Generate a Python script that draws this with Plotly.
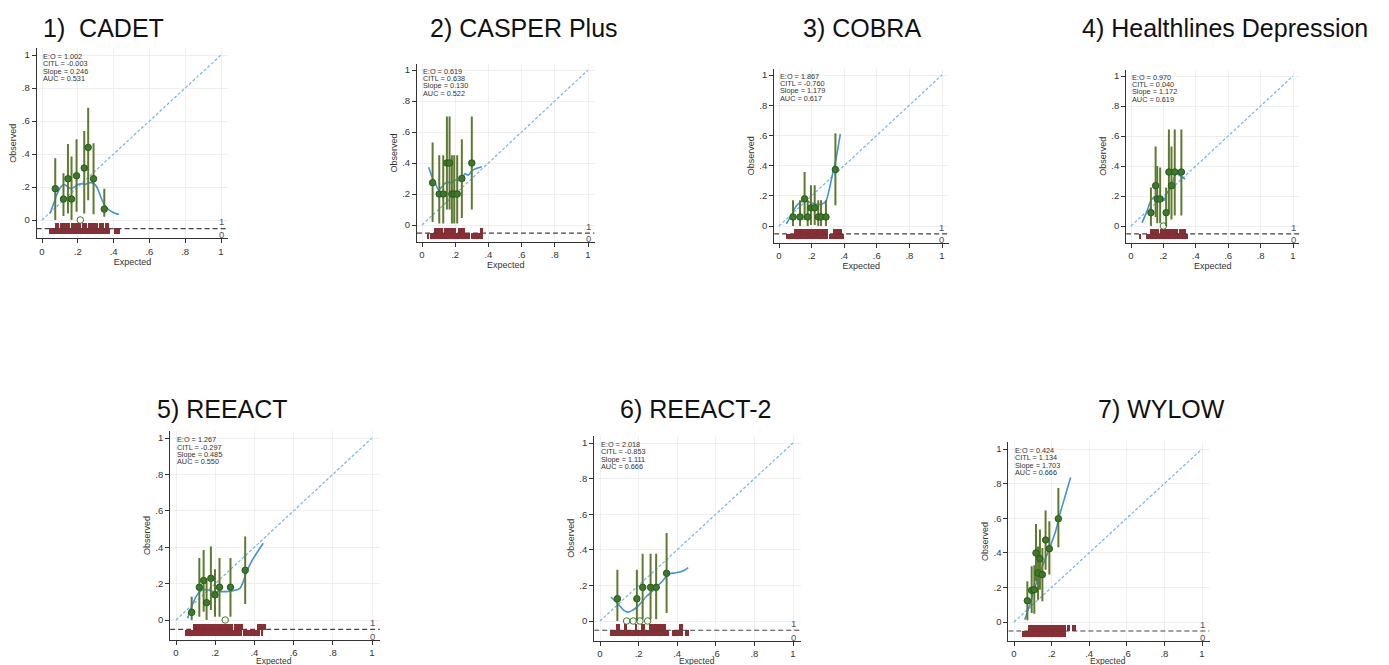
import plotly.graph_objects as go

# page body has an 8px margin: figure drawn 8px right/down of the window origin
OX, OY = 8, 8
W, H = 1389, 665

# ---------------- data ----------------
titles = ["1)  CADET", "2) CASPER Plus", "3) COBRA", "4) Healthlines Depression",
          "5) REEACT", "6) REEACT-2", "7) WYLOW"]

stat_names = ["E:O", "CITL", "Slope", "AUC"]
stats = [
    ["1.002", "-0.003", "0.246", "0.531"],
    ["0.619", "0.638", "0.130", "0.522"],
    ["1.867", "-0.760", "1.179", "0.617"],
    ["0.970", "0.040", "1.172", "0.619"],
    ["1.267", "-0.297", "0.485", "0.550"],
    ["2.018", "-0.853", "1.111", "0.666"],
    ["0.424", "1.134", "1.703", "0.666"],
]

# grouped expected / observed with 95% CI
exp1 = [0.074, 0.120, 0.145, 0.165, 0.193, 0.214, 0.236, 0.258, 0.288, 0.348]
obs1 = [0.190, 0.127, 0.250, 0.127, 0.268, 0.000, 0.315, 0.440, 0.250, 0.066]
lo1 = [0.00, 0.024, 0.04, 0.00, 0.05, 0.00, 0.04, 0.12, 0.035, 0.02]
hi1 = [0.374, 0.283, 0.46, 0.385, 0.49, 0.00, 0.54, 0.68, 0.465, 0.19]

exp2 = [0.064, 0.104, 0.128, 0.150, 0.166, 0.180, 0.194, 0.212, 0.240, 0.300]
obs2 = [0.273, 0.200, 0.200, 0.400, 0.400, 0.200, 0.200, 0.200, 0.300, 0.400]
lo2 = [0.02, 0.01, 0.01, 0.10, 0.10, 0.01, 0.01, 0.01, 0.045, 0.10]
hi2 = [0.533, 0.45, 0.45, 0.70, 0.70, 0.45, 0.45, 0.45, 0.553, 0.70]

exp3 = [0.086, 0.129, 0.157, 0.176, 0.196, 0.219, 0.241, 0.258, 0.288, 0.346]
obs3 = [0.060, 0.060, 0.180, 0.060, 0.120, 0.120, 0.060, 0.060, 0.060, 0.374]
lo3 = [0.0, 0.0, 0.04, 0.0, 0.007, 0.007, 0.0, 0.0, 0.0, 0.137]
hi3 = [0.17, 0.17, 0.358, 0.17, 0.27, 0.27, 0.17, 0.17, 0.17, 0.615]

exp4 = [0.123, 0.152, 0.162, 0.180, 0.200, 0.217, 0.234, 0.250, 0.270, 0.311]
obs4 = [0.089, 0.269, 0.180, 0.180, 0.000, 0.089, 0.360, 0.269, 0.360, 0.360]
lo4 = [0.0, 0.06, 0.018, 0.018, 0.0, 0.0, 0.095, 0.044, 0.07, 0.07]
hi4 = [0.256, 0.53, 0.40, 0.39, 0.0, 0.256, 0.644, 0.53, 0.644, 0.644]

exp5 = [0.080, 0.119, 0.141, 0.156, 0.178, 0.199, 0.222, 0.251, 0.278, 0.353]
obs5 = [0.042, 0.180, 0.217, 0.095, 0.229, 0.138, 0.180, 0.000, 0.180, 0.273]
lo5 = [0.0, 0.018, 0.046, 0.0, 0.055, 0.018, 0.018, 0.0, 0.018, 0.088]
hi5 = [0.128, 0.34, 0.385, 0.23, 0.404, 0.279, 0.34, 0.0, 0.34, 0.459]

exp6 = [0.090, 0.138, 0.172, 0.191, 0.207, 0.221, 0.247, 0.262, 0.291, 0.345]
obs6 = [0.125, 0.000, 0.000, 0.125, 0.000, 0.189, 0.000, 0.189, 0.189, 0.268]
lo6 = [0.0, 0.0, 0.0, 0.0, 0.0, 0.01, 0.0, 0.01, 0.01, 0.045]
hi6 = [0.288, 0.0, 0.0, 0.288, 0.0, 0.378, 0.0, 0.378, 0.378, 0.494]

exp7 = [0.071, 0.094, 0.108, 0.117, 0.128, 0.138, 0.151, 0.168, 0.188, 0.236]
obs7 = [0.123, 0.183, 0.187, 0.399, 0.283, 0.366, 0.274, 0.474, 0.424, 0.597]
lo7 = [0.01, 0.052, 0.048, 0.235, 0.129, 0.187, 0.12, 0.302, 0.274, 0.432]
hi7 = [0.235, 0.322, 0.328, 0.566, 0.437, 0.534, 0.428, 0.644, 0.582, 0.775]

# lowess smoothers
lx1 = [0.045, 0.065, 0.085, 0.105, 0.12, 0.14, 0.16, 0.18, 0.20, 0.22, 0.24, 0.26, 0.28, 0.30, 0.315, 0.33, 0.35, 0.37, 0.39, 0.41, 0.43]
ly1 = [0.04, 0.10, 0.16, 0.20, 0.215, 0.205, 0.19, 0.20, 0.215, 0.22, 0.215, 0.225, 0.225, 0.21, 0.18, 0.135, 0.09, 0.065, 0.05, 0.04, 0.035]
lx2 = [0.04, 0.06, 0.08, 0.10, 0.12, 0.14, 0.16, 0.18, 0.20, 0.22, 0.24, 0.26, 0.28, 0.30, 0.33, 0.36]
ly2 = [0.372, 0.312, 0.27, 0.226, 0.247, 0.27, 0.275, 0.273, 0.29, 0.286, 0.30, 0.33, 0.322, 0.35, 0.366, 0.376]
lx3 = [0.045, 0.076, 0.106, 0.137, 0.168, 0.198, 0.229, 0.26, 0.286, 0.307, 0.327, 0.352, 0.376]
ly3 = [0.015, 0.07, 0.133, 0.16, 0.164, 0.153, 0.144, 0.144, 0.16, 0.237, 0.336, 0.458, 0.608]
lx4 = [0.068, 0.098, 0.125, 0.15, 0.17, 0.19, 0.205, 0.221, 0.242, 0.262, 0.279, 0.295, 0.313, 0.334]
ly4 = [0.022, 0.096, 0.173, 0.196, 0.18, 0.173, 0.173, 0.218, 0.251, 0.307, 0.362, 0.34, 0.33, 0.313]
lx5 = [0.059, 0.08, 0.102, 0.122, 0.139, 0.165, 0.19, 0.224, 0.258, 0.292, 0.326, 0.343, 0.36, 0.385, 0.411, 0.445]
ly5 = [0.009, 0.073, 0.128, 0.156, 0.167, 0.165, 0.156, 0.156, 0.156, 0.161, 0.174, 0.211, 0.266, 0.321, 0.367, 0.422]
lx6 = [0.057, 0.078, 0.10, 0.124, 0.147, 0.169, 0.193, 0.216, 0.241, 0.267, 0.293, 0.319, 0.341, 0.362, 0.388, 0.414, 0.436, 0.457]
ly6 = [0.135, 0.112, 0.088, 0.06, 0.05, 0.06, 0.079, 0.107, 0.139, 0.163, 0.191, 0.219, 0.247, 0.266, 0.27, 0.275, 0.285, 0.30]
lx7 = [0.057, 0.09, 0.119, 0.15, 0.19, 0.22, 0.243, 0.27, 0.301]
ly7 = [0.013, 0.12, 0.225, 0.32, 0.428, 0.52, 0.62, 0.72, 0.836]

# spike-plot (rug) extents of predicted risk: events (1) and non-events (0)
rug1_1 = [[0.07, 0.095], [0.10, 0.155], [0.16, 0.215], [0.22, 0.25], [0.255, 0.31], [0.315, 0.345], [0.35, 0.37]]
rug1_0 = [[0.035, 0.38], [0.40, 0.435]]
rug2_1 = [[0.07, 0.125], [0.13, 0.205], [0.215, 0.26], [0.35, 0.365]]
rug2_0 = [[0.035, 0.045], [0.05, 0.29], [0.295, 0.335], [0.34, 0.37]]
rug3_1 = [[0.095, 0.30], [0.33, 0.39]]
rug3_0 = [[0.045, 0.30], [0.305, 0.40]]
rug4_1 = [[0.12, 0.175], [0.18, 0.29], [0.295, 0.34]]
rug4_0 = [[0.055, 0.062], [0.095, 0.355]]
rug5_1 = [[0.085, 0.29], [0.295, 0.34], [0.415, 0.46]]
rug5_0 = [[0.045, 0.335], [0.34, 0.43], [0.435, 0.445]]
rug6_1 = [[0.085, 0.105], [0.13, 0.14], [0.18, 0.195], [0.215, 0.235], [0.255, 0.345], [0.41, 0.43]]
rug6_0 = [[0.055, 0.36], [0.375, 0.43], [0.44, 0.46]]
rug7_1 = [[0.075, 0.28], [0.285, 0.30], [0.31, 0.33]]
rug7_0 = [[0.045, 0.28]]

panels = [
    (exp1, obs1, lo1, hi1, lx1, ly1, rug1_1, rug1_0),
    (exp2, obs2, lo2, hi2, lx2, ly2, rug2_1, rug2_0),
    (exp3, obs3, lo3, hi3, lx3, ly3, rug3_1, rug3_0),
    (exp4, obs4, lo4, hi4, lx4, ly4, rug4_1, rug4_0),
    (exp5, obs5, lo5, hi5, lx5, ly5, rug5_1, rug5_0),
    (exp6, obs6, lo6, hi6, lx6, ly6, rug6_1, rug6_0),
    (exp7, obs7, lo7, hi7, lx7, ly7, rug7_1, rug7_0),
]

tickvals = [0, 0.2, 0.4, 0.6, 0.8, 1]
ticktext = ["0", ".2", ".4", ".6", ".8", "1"]

# ---------------- layout geometry (window pixels) ----------------
# (x pixel of 0, px per unit x, y pixel of 0, px per unit y)
geom = [
    (42, 179, 220, 165),
    (422, 166, 225, 155),
    (779, 163, 226, 151),
    (1131, 162, 226, 150),
    (176, 196, 620, 182),
    (600, 193, 621, 178),
    (1014, 188, 622, 173),
]
title_pos = [(41, 28), (428, 28), (801, 28), (1080, 28), (155, 409), (618, 409), (1096, 409)]
BOTTOM_XTITLE_Y = 660.5  # window y of bottom-row "Expected" centre (kept inside the page)
XR = (-0.03, 1.04)
YR = (-0.11, 1.04)
RUG_MID, RUG_TOP, RUG_BOT = -0.052, -0.018, -0.086
STAT_LINE_PX = 7.2

C_CI = "#5f7a30"
C_PT = "#3b7a28"
C_PT_EDGE = "#2a5a1b"
C_LOW = "#3e93dc"
C_DIAG = "#72b4ea"
C_RUG = "#8c2d33"


def px(xp):
    return (xp - OX) / W


def py(yp):
    return 1 - (yp - OY) / H


fig = go.Figure()
annotations = []
FONT = "Liberation Sans, Arial"
AXT_FONT = dict(family=FONT, size=9, color="#333")

for i, (ex, ob, lo, hi, lx, ly, r1, r0) in enumerate(panels):
    n = i + 1
    xa = "x" if n == 1 else f"x{n}"
    ya = "y" if n == 1 else f"y{n}"
    x0, sx, y0, sy = geom[i]
    L = x0 + XR[0] * sx
    R = x0 + XR[1] * sx
    B = y0 - YR[0] * sy
    T = y0 - YR[1] * sy
    xdom = [px(L), px(R)]
    ydom = [py(B), py(T)]
    bottom_row = n >= 5

    axcommon = dict(showline=True, linecolor="#333", linewidth=1, ticks="outside",
                    ticklen=4, tickcolor="#333", tickwidth=1, showgrid=True,
                    gridcolor="#efefef", gridwidth=1, zeroline=False,
                    tickvals=tickvals, ticktext=ticktext,
                    tickfont=dict(family=FONT, size=9.5, color="#333"))
    xtitle = dict(text="" if bottom_row else "Expected", font=AXT_FONT, standoff=0)
    fig.update_layout(**{
        ("xaxis" if n == 1 else f"xaxis{n}"): dict(
            domain=xdom, range=list(XR), anchor=ya, title=xtitle, **axcommon),
        ("yaxis" if n == 1 else f"yaxis{n}"): dict(
            domain=ydom, range=list(YR), anchor=xa,
            title=dict(text="Observed", font=AXT_FONT, standoff=3),
            **axcommon),
    })
    if bottom_row:
        annotations.append(dict(x=px(x0 + 0.5 * sx), y=py(BOTTOM_XTITLE_Y), xref="paper", yref="paper",
                                xanchor="center", yanchor="middle", showarrow=False, borderpad=0,
                                text="Expected", font=dict(family=FONT, size=8.5, color="#333")))

    # rug (spike plot)
    for segs, base, top in ((r1, RUG_MID, RUG_TOP), (r0, RUG_BOT, RUG_MID)):
        fig.add_trace(go.Bar(
            x=[(a + b) / 2 for a, b in segs], y=[top - base] * len(segs), base=[base] * len(segs),
            width=[b - a for a, b in segs], marker=dict(color=C_RUG, line=dict(width=0)),
            xaxis=xa, yaxis=ya, hoverinfo="skip"))

    # reference lines
    fig.add_trace(go.Scatter(x=[XR[0], XR[1]], y=[RUG_MID, RUG_MID], mode="lines",
                             line=dict(color="#444", width=1.2, dash="5px,3px"), xaxis=xa, yaxis=ya))
    fig.add_trace(go.Scatter(x=[0, 1], y=[0, 1], mode="lines",
                             line=dict(color=C_DIAG, width=1.2, dash="3px,2px"), xaxis=xa, yaxis=ya))

    # lowess
    fig.add_trace(go.Scatter(x=lx, y=ly, mode="lines",
                             line=dict(color=C_LOW, width=1.6, shape="spline", smoothing=0.8),
                             xaxis=xa, yaxis=ya))

    # groups with CI
    syms = ["circle" if o > 0 else "circle-open" for o in ob]
    fig.add_trace(go.Scatter(
        x=ex, y=ob, mode="markers",
        marker=dict(size=6.5, color=C_PT, symbol=syms, line=dict(color=C_PT_EDGE, width=1)),
        error_y=dict(type="data", symmetric=False,
                     array=[h - o for h, o in zip(hi, ob)],
                     arrayminus=[o - l for o, l in zip(ob, lo)],
                     thickness=2, width=0, color=C_CI),
        xaxis=xa, yaxis=ya))

    # stats box: one annotation per line, tightly spaced
    s = stats[i]
    for k, (nm, v) in enumerate(zip(stat_names, s)):
        annotations.append(dict(
            x=0.0, y=0.99 - k * STAT_LINE_PX / sy, xref=xa, yref=ya, xanchor="left", yanchor="middle",
            showarrow=False, text=f"{nm} = {v}", borderpad=0,
            font=dict(family=FONT, size=7.3, color="#333")))
    # rug labels
    annotations.append(dict(x=1.0, y=-0.012, xref=xa, yref=ya, xanchor="center", yanchor="middle",
                            showarrow=False, text="1", font=dict(family=FONT, size=9.5, color="#555")))
    annotations.append(dict(x=1.0, y=-0.09, xref=xa, yref=ya, xanchor="center", yanchor="middle",
                            showarrow=False, text="0", font=dict(family=FONT, size=9.5, color="#555")))
    # panel title
    tx, ty = title_pos[i]
    annotations.append(dict(x=px(tx), y=py(ty), xref="paper", yref="paper", xanchor="left", yanchor="middle",
                            showarrow=False, text=titles[i],
                            font=dict(family=FONT, size=25, color="#111")))

fig.update_layout(width=W, height=H, margin=dict(l=0, r=0, t=0, b=0),
                  paper_bgcolor="white", plot_bgcolor="white", showlegend=False,
                  barmode="overlay", bargap=0, annotations=annotations)

fig.write_html("out.html")
